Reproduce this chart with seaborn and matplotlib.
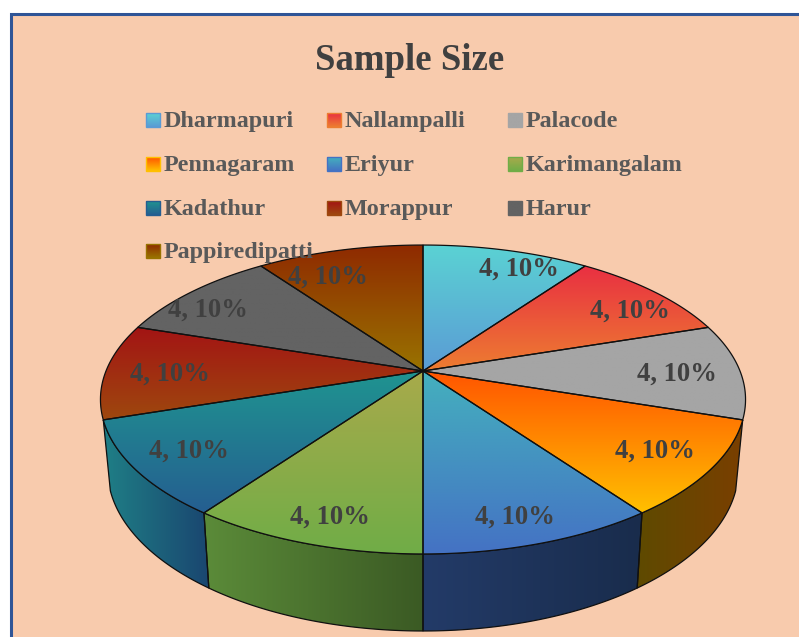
import numpy as np
import matplotlib
matplotlib.use("Agg")
import matplotlib.pyplot as plt
from matplotlib.patches import Polygon, Rectangle
import seaborn as sns

# Chart content
title = "Sample Size"
blocks = ["Dharmapuri", "Nallampalli", "Palacode", "Pennagaram", "Eriyur",
          "Karimangalam", "Kadathur", "Morappur", "Harur", "Pappiredipatti"]
sample_size = [4, 4, 4, 4, 4, 4, 4, 4, 4, 4]

# Vertical gradient of each top face, upper colour then lower colour
face_top = ["#5AD2D3", "#E92F42", "#A5A5A5", "#FF5500", "#44B0BE",
            "#A8AA4B", "#1F9490", "#A31414", "#636363", "#8F2A00"]
face_bottom = ["#5B9BD5", "#ED7D31", "#A5A5A5", "#FFC000", "#4472C4",
               "#70AD47", "#255E91", "#9E480E", "#636363", "#997300"]

# Horizontal gradient of the rim, left colour then right colour
rim_left = {3: "#5E4A00", 4: "#233B68", 5: "#5B8B39", 6: "#1F7F86"}
rim_right = {3: "#7A3F00", 4: "#192C4C", 5: "#3B5A24", 6: "#1A4670"}

sns.set_theme(style="white")
plt.rcParams["font.family"] = ["Liberation Serif", "DejaVu Serif"]

W, H = 799, 637
fig = plt.figure(figsize=(W / 100, H / 100), dpi=100, facecolor="white")
ax = fig.add_axes([0, 0, 1, 1])
ax.axis("off")

# Chart area with its blue frame, open towards the right and bottom edges
ax.add_patch(Rectangle((10.5, 13.5), W, H, facecolor="#F8CBAD",
                       edgecolor="#2F5597", linewidth=2.2, zorder=0))


def project(theta, r=1.0, cy=371.0, bx=317.0, ay=149.2, c=0.1845):
    """Perspective view of a point on the disc; theta runs clockwise from 12 o'clock."""
    u, v = r * np.sin(theta), r * np.cos(theta)
    den = 1 + c * v
    return 423.0 + bx * u / den, cy - ay * v / den


def project_floor(theta):
    return project(theta, cy=439.7, bx=310.0, ay=156.0)


def gradient_fill(points, first, last, vertical=True, zorder=2):
    """Fill a polygon with a two-colour linear gradient and outline it."""
    pts = np.asarray(points)
    x0, y0 = pts.min(axis=0)
    x1, y1 = pts.max(axis=0)
    ramp = np.array(sns.blend_palette([first, last], 128))
    img = ramp[:, None, :] if vertical else ramp[None, :, :]
    im = ax.imshow(img, extent=[x0, x1, y1, y0], aspect="auto",
                   interpolation="bilinear", zorder=zorder)
    outline = Polygon(pts, closed=True, facecolor="none", edgecolor="#101010",
                      linewidth=0.9, zorder=zorder + 0.1)
    ax.add_patch(outline)
    im.set_clip_path(outline)


# Slice boundaries come straight from the values
shares = np.array(sample_size, dtype=float) / sum(sample_size)
edges = np.concatenate([[0], np.cumsum(shares)]) * 2 * np.pi

# Rim below the front slices
for i in rim_left:
    t = np.linspace(edges[i], edges[i + 1], 60)
    upper = np.column_stack(project(t))
    lower = np.column_stack(project_floor(t))
    gradient_fill(np.vstack([upper, lower[::-1]]), rim_left[i], rim_right[i],
                  vertical=False, zorder=2)

# Top faces
for i in range(len(sample_size)):
    t = np.linspace(edges[i], edges[i + 1], 60)
    arc = np.column_stack(project(t))
    apex = np.array(project(0.0, r=0.0))
    gradient_fill(np.vstack([apex, arc]), face_top[i], face_bottom[i], zorder=3)

# Data labels: count and share, nudged off the slice's mid-radius point
label_nudge_x = [26, 14, -6, 1, -2, 1, -3, 7, -22, -25]
label_nudge_y = [0, 6, 3, 1, 10, 10, 1, 3, 5, 8]
mids = (edges[:-1] + edges[1:]) / 2
for i, m in enumerate(mids):
    x, y = project(m, r=0.82)
    ax.text(x + label_nudge_x[i], y + label_nudge_y[i],
            f"{sample_size[i]}, {shares[i]:.0%}",
            ha="center", va="center", fontsize=19.2, fontweight="bold",
            color="#404040", zorder=6)

# Title
ax.text(410, 60, title, ha="center", va="center", fontsize=26.5,
        fontweight="bold", color="#404040", zorder=6)

# Legend, laid out in three columns
col_x = [146, 327, 508]
row_y = [120, 164, 208, 251]
for i, name in enumerate(blocks):
    x, y = col_x[i % 3], row_y[i // 3]
    s = 13.5
    ramp = np.array(sns.blend_palette([face_top[i], face_bottom[i]], 32))
    ax.imshow(ramp[:, None, :], extent=[x, x + s, y + s / 2, y - s / 2],
              aspect="auto", zorder=7)
    ax.add_patch(Rectangle((x, y - s / 2), s, s, facecolor="none",
                           edgecolor=face_bottom[i], linewidth=1.0, zorder=7.1))
    ax.text(x + 18, y + 7, name, ha="left", va="baseline", fontsize=17.4,
            fontweight="bold", color="#595959", zorder=8)

ax.set_xlim(0, W)
ax.set_ylim(H, 0)
fig.savefig("out.png", dpi=100, facecolor="white")
